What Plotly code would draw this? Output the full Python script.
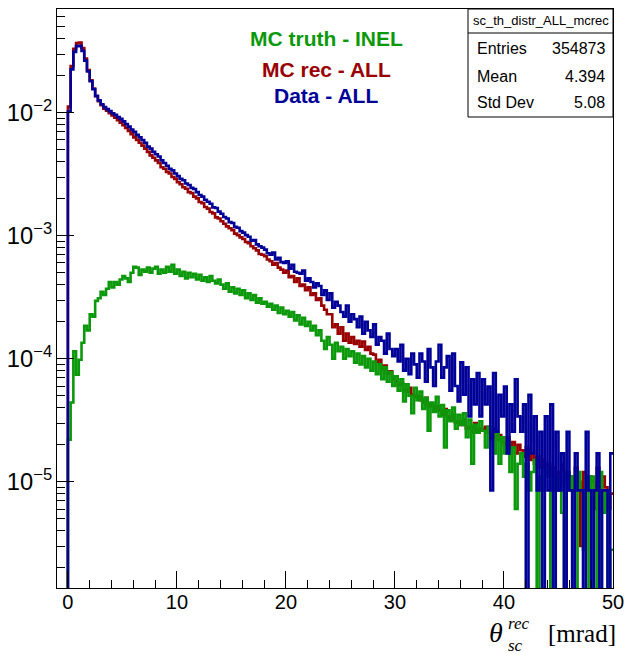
import plotly.graph_objects as go

# ---------------- data (bin contents) ----------------
BIN_WIDTH = 0.25
X_START = 0.0

mc_rec = [
    0.0112, 0.0240, 0.0330, 0.0368, 0.0372, 0.0336, 0.0276, 0.0222,
    0.0183, 0.0157, 0.0136, 0.0124, 0.0115, 0.0108, 0.0104, 0.0099,
    0.0095, 0.0091, 0.0087, 0.0083, 0.0079, 0.0075, 0.0071, 0.0067,
    0.0063, 0.0060, 0.0057, 0.0054, 0.0051, 0.0048, 0.0045, 0.0043,
    0.0041, 0.0039, 0.0036, 0.0035, 0.0033, 0.0032, 0.0030, 0.0029,
    0.00272, 0.00262, 0.00248, 0.00241, 0.00226, 0.00222, 0.00208, 0.00201,
    0.00188, 0.00184, 0.00171, 0.00166, 0.00156, 0.00152, 0.00141, 0.00138,
    0.00131, 0.00125, 0.00119, 0.00115, 0.00111, 0.00104, 0.00101, 0.00097,
    0.00094, 0.00089, 0.00087, 0.00082, 0.00079, 0.00076, 0.00071, 0.00070,
    0.00068, 0.00064, 0.00062, 0.00058, 0.00060, 0.00055, 0.00053, 0.00050,
    0.00052, 0.00046, 0.00047, 0.00042, 0.00045, 0.00039, 0.00040, 0.00036,
    0.00038, 0.00033, 0.00034, 0.00030, 0.00031, 0.00027, 0.00025, 0.00023,
    0.00023, 0.00018, 0.00019, 0.00016, 0.00018, 0.00014, 0.00016, 0.000135,
    0.00015, 0.000132, 0.00014, 0.000125, 0.000138, 0.000118, 0.000125, 0.00011,
    0.000108, 9.4e-5, 9.8e-5, 8.2e-5, 8.8e-5, 7.6e-5, 7.9e-5, 6.9e-5,
    6.6e-5, 6.1e-5, 6.3e-5, 5.6e-5, 5.4e-5, 5.8e-5, 5.1e-5, 4.9e-5,
    5.0e-5, 4.6e-5, 4.4e-5, 4.8e-5, 4.1e-5, 4.3e-5, 3.9e-5, 4.1e-5,
    3.8e-5, 3.5e-5, 3.9e-5, 3.4e-5, 3.2e-5, 3.5e-5, 3.0e-5, 3.1e-5,
    2.9e-5, 3.2e-5, 2.7e-5, 2.8e-5, 2.5e-5, 3.0e-5, 2.5e-5, 2.7e-5,
    2.6e-5, 2.8e-5, 2.5e-5, 2.3e-5, 2.7e-5, 2.2e-5, 2.4e-5, 2.1e-5,
    2.0e-5, 2.3e-5, 1.9e-5, 2.1e-5, 1.7e-5, 2.0e-5, 1.8e-5, 1.6e-5,
    1.9e-5, 1.5e-5, 1.7e-5, 1.4e-5, 1.6e-5, 1.3e-5, 1.5e-5, 1.2e-5,
    1.4e-5, 1.1e-5, 1.3e-5, 8.5e-6, 1.2e-5, 1.4e-5, 1.0e-5, 1.2e-5,
    1.1e-5, 8.5e-6, 1.3e-5, 1.0e-5, 3.0e-6, 1.2e-5, 8.5e-6, 1.1e-5,
    1.0e-5, 6.0e-6, 1.3e-5, 8.5e-6, 1.1e-5, 9.0e-6, 6.0e-6, 8.0e-6,
]

data_all = [
    0.0102, 0.0225, 0.0312, 0.0348, 0.0350, 0.0318, 0.0265, 0.0216,
    0.0180, 0.0155, 0.0137, 0.0126, 0.0117, 0.0111, 0.0107, 0.0103,
    0.0099, 0.0096, 0.0092, 0.0089, 0.0085, 0.0081, 0.0077, 0.0073,
    0.0070, 0.0066, 0.0063, 0.0060, 0.0057, 0.0053, 0.0051, 0.0048,
    0.0046, 0.0044, 0.0041, 0.0039, 0.0037, 0.0035, 0.0034, 0.0032,
    0.00305, 0.00290, 0.00282, 0.00266, 0.00258, 0.00245, 0.00240, 0.00226,
    0.00214, 0.00208, 0.00196, 0.00189, 0.00182, 0.00170, 0.00168, 0.00157,
    0.00151, 0.00142, 0.00138, 0.00129, 0.00127, 0.00118, 0.00116, 0.00109,
    0.00106, 0.00101, 0.00098, 0.00091, 0.00092, 0.00085, 0.00082, 0.00080,
    0.00077, 0.00072, 0.00070, 0.00073, 0.00064, 0.00066, 0.00061, 0.00060,
    0.00062, 0.00054, 0.00058, 0.00051, 0.00050, 0.00049, 0.00052, 0.00043,
    0.00045, 0.00042, 0.00038, 0.00041, 0.00039, 0.00033, 0.00036, 0.00030,
    0.00034, 0.00026, 0.00029, 0.00027, 0.00024, 0.00022, 0.00027, 0.00020,
    0.00023, 0.00021, 0.00018, 0.00022, 0.00016, 0.00020, 0.00017, 0.00015,
    0.00019, 0.00013, 0.00015, 0.00014, 0.00011, 0.00016, 0.00012, 0.000105,
    0.00012, 9.5e-5, 0.00013, 8.0e-5, 0.00010, 7.5e-5, 0.00011, 9.0e-5,
    7.0e-5, 0.00011, 9.5e-5, 6.5e-5, 0.00012, 8.5e-5, 6.0e-5, 9.5e-5,
    0.00013, 7.0e-5, 8.5e-5, 0.000105, 5.5e-5, 0.00011, 6.0e-5, 4.5e-5,
    9.35e-5, 5.1e-5, 8.5e-5, 3.4e-5, 6.8e-5, 4.25e-5, 7.65e-5, 3.4e-5,
    6.8e-5, 4.25e-5, 5.95e-5, 8.5e-6, 7.65e-5, 2.55e-5, 5.1e-5, 3.4e-5,
    5.95e-5, 1.7e-5, 4.25e-5, 2.55e-5, 6.8e-5, 3.4e-5, 2.55e-5, 4.25e-5,
    0.0, 5.1e-5, 1.7e-5, 3.4e-5, 8.5e-6, 2.55e-5, 0.0, 3.4e-5,
    8.5e-6, 4.25e-5, 0.0, 2.55e-5, 8.5e-6, 1.7e-5, 0.0, 2.55e-5,
    8.5e-6, 0.0, 1.7e-5, 8.5e-6, 8.5e-6, 0.0, 2.55e-5, 8.5e-6,
    0.0, 8.5e-6, 1.7e-5, 0.0, 8.5e-6, 8.5e-6, 0.0, 1.7e-5,
]

mc_truth_inel = [
    2.2e-5, 4.4e-5, 1.15e-4, 7.4e-5, 9.8e-5, 1.35e-4, 1.85e-4, 1.7e-4,
    2.3e-4, 2.2e-4, 2.95e-4, 3.1e-4, 3.5e-4, 3.3e-4, 3.7e-4, 4.2e-4,
    3.8e-4, 4.2e-4, 4.0e-4, 4.4e-4, 4.7e-4, 4.5e-4, 4.2e-4, 5.0e-4,
    5.6e-4, 5.5e-4, 4.8e-4, 5.3e-4, 5.1e-4, 5.5e-4, 5.0e-4, 5.4e-4,
    5.6e-4, 4.9e-4, 5.3e-4, 5.0e-4, 5.6e-4, 5.1e-4, 5.8e-4, 4.9e-4,
    5.3e-4, 4.7e-4, 5.1e-4, 4.5e-4, 5.0e-4, 4.6e-4, 4.9e-4, 4.4e-4,
    4.8e-4, 4.3e-4, 4.6e-4, 4.2e-4, 4.7e-4, 4.3e-4, 4.1e-4, 4.4e-4,
    4.0e-4, 3.7e-4, 4.1e-4, 3.5e-4, 3.8e-4, 3.4e-4, 3.7e-4, 3.3e-4,
    3.6e-4, 3.1e-4, 3.4e-4, 3.0e-4, 3.3e-4, 2.85e-4, 3.1e-4, 2.8e-4,
    2.9e-4, 2.65e-4, 2.8e-4, 2.5e-4, 2.7e-4, 2.35e-4, 2.6e-4, 2.3e-4,
    2.45e-4, 2.2e-4, 2.4e-4, 2.05e-4, 2.25e-4, 1.9e-4, 2.15e-4, 1.85e-4,
    2.0e-4, 1.7e-4, 1.85e-4, 1.55e-4, 1.7e-4, 1.4e-4, 1.2e-4, 1.5e-4,
    1.3e-4, 1.0e-4, 1.35e-4, 1.15e-4, 1.25e-4, 1.0e-4, 1.2e-4, 1.05e-4,
    1.15e-4, 9.3e-5, 1.1e-4, 9.0e-5, 1.05e-4, 8.5e-5, 1.0e-4, 8.0e-5,
    9.5e-5, 7.5e-5, 9.0e-5, 6.8e-5, 8.5e-5, 6.5e-5, 7.8e-5, 6.0e-5,
    7.2e-5, 5.5e-5, 6.8e-5, 4.5e-5, 6.2e-5, 5.0e-5, 3.6e-5, 5.8e-5,
    4.6e-5, 5.4e-5, 3.9e-5, 4.8e-5, 2.6e-5, 4.4e-5, 3.7e-5, 4.9e-5,
    3.4e-5, 4.2e-5, 1.9e-5, 3.8e-5, 3.1e-5, 4.0e-5, 2.7e-5, 3.5e-5,
    2.9e-5, 3.6e-5, 2.3e-5, 3.2e-5, 1.4e-5, 2.9e-5, 2.5e-5, 3.1e-5,
    2.6e-5, 1.9e-5, 2.8e-5, 2.2e-5, 1.7e-5, 2.5e-5, 1.4e-5, 2.3e-5,
    1.7e-5, 2.1e-5, 1.2e-5, 1.9e-5, 6.0e-6, 1.4e-5, 1.7e-5, 1.1e-5,
    1.4e-5, 8.5e-6, 1.2e-5, 1.5e-5, 0.0, 1.1e-5, 8.5e-6, 1.3e-5,
    1.1e-5, 0.0, 1.2e-5, 8.5e-6, 1.1e-5, 5.6e-6, 0.0, 1.2e-5,
    8.5e-6, 1.1e-5, 0.0, 1.2e-5, 8.5e-6, 2.8e-6, 1.1e-5, 0.0,
    1.1e-5, 8.5e-6, 0.0, 1.2e-5, 5.6e-6, 8.5e-6, 0.0, 2.8e-6,
]

legend_labels = ["MC truth - INEL", "MC rec - ALL", "Data - ALL"]
stats_title = "sc_th_distr_ALL_mcrec"
stats_names = ["Entries", "Mean", "Std Dev"]
stats_values = ["354873", "4.394", "5.08"]

X_RANGE = [-1.0, 50.0]
Y_RANGE_LOG = [-5.864, -1.157]

GREEN = "#0b990b"
RED = "#990000"
BLUE = "#000099"

FLOOR = 1e-9  # empty bins are drawn down to (below) the frame bottom


def step_xy(vals):
    xs = [X_START]
    ys = [FLOOR]
    for i, v in enumerate(vals):
        xs.append(X_START + i * BIN_WIDTH)
        ys.append(v if v > 0 else FLOOR)
    xs.append(X_START + len(vals) * BIN_WIDTH)
    ys.append(ys[-1])
    return xs, ys


fig = go.Figure()
for vals, col, name in [(mc_rec, RED, legend_labels[1]),
                        (mc_truth_inel, GREEN, legend_labels[0]),
                        (data_all, BLUE, legend_labels[2])]:
    xs, ys = step_xy(vals)
    fig.add_trace(go.Scatter(x=xs, y=ys, mode="lines", name=name,
                             line=dict(color=col, width=2.6, shape="hv"),
                             showlegend=False, hoverinfo="skip"))

# ---------------- layout ----------------
# page body margin is removed (see write_html below), so the figure's
# pixels coincide with the window's pixels.
W, H = 625, 654
FL, FR, FT, FB = 57, 613, 9, 588          # frame edges in window pixels
ML, MT = FL, FT
MR, MB = W - FR, H - FB
PW, PH = FR - FL, FB - FT


def px(xwin):
    return (xwin - FL) / PW


def py(ywin):
    return 1 - (ywin - FT) / PH


fig.update_layout(
    width=W, height=H,
    margin=dict(l=ML, r=MR, t=MT, b=MB, pad=0),
    paper_bgcolor="white", plot_bgcolor="white",
    font=dict(family="Liberation Sans, Arial, sans-serif", color="black"),
    xaxis=dict(range=X_RANGE, showgrid=False, zeroline=False, automargin=False,
               showline=True, mirror=True, linecolor="black", linewidth=1,
               ticks="inside", ticklen=17, tickwidth=1, tickcolor="black",
               tick0=0, dtick=10, tickfont=dict(size=20),
               ticklabelstandoff=-4,
               minor=dict(ticks="inside", ticklen=8, tickwidth=1,
                          tickcolor="black", dtick=2, showgrid=False)),
    yaxis=dict(type="log", range=Y_RANGE_LOG, showgrid=False, zeroline=False,
               automargin=False,
               showline=True, mirror=True, linecolor="black", linewidth=1,
               ticks="inside", ticklen=17, tickwidth=1, tickcolor="black",
               dtick=1, exponentformat="power", tickfont=dict(size=19),
               minor=dict(ticks="inside", ticklen=8, tickwidth=1,
                          tickcolor="black", dtick="D1", showgrid=False)),
)

# stats box
fig.add_shape(type="rect", xref="paper", yref="paper",
              x0=px(468), x1=px(613), y0=py(117), y1=py(9),
              line=dict(color="black", width=1), fillcolor="white", layer="above")
fig.add_shape(type="line", xref="paper", yref="paper",
              x0=px(468), x1=px(613), y0=py(33), y1=py(33),
              line=dict(color="black", width=1), layer="above")
fig.add_annotation(xref="paper", yref="paper", x=px(540.5), y=py(21),
                   text=stats_title, showarrow=False, xanchor="center",
                   yanchor="middle", font=dict(size=13, color="black"))
for name, val, ypix in zip(stats_names, stats_values, [49, 76, 102]):
    fig.add_annotation(xref="paper", yref="paper", x=px(475), y=py(ypix),
                       text=name, showarrow=False, xanchor="left",
                       yanchor="middle", font=dict(size=16, color="black"))
    fig.add_annotation(xref="paper", yref="paper", x=px(607), y=py(ypix),
                       text=val, showarrow=False, xanchor="right",
                       yanchor="middle", font=dict(size=16, color="black"))

# legend texts
for lab, col, ypix in zip(legend_labels, [GREEN, RED, BLUE], [39, 69, 96]):
    fig.add_annotation(xref="paper", yref="paper", x=px(326), y=py(ypix),
                       text="<b>" + lab + "</b>", showarrow=False,
                       xanchor="center", yanchor="middle",
                       font=dict(size=21, color=col,
                                 family="Liberation Sans, Arial, sans-serif"))

# x axis title: theta_sc^rec [mrad]
SERIF = "Liberation Serif, Times New Roman, serif"
fig.add_annotation(xref="paper", yref="paper", x=px(496), y=py(632),
                   text="<i>θ</i>", showarrow=False, xanchor="center",
                   yanchor="middle", font=dict(size=28, family=SERIF))
fig.add_annotation(xref="paper", yref="paper", x=px(507), y=py(623.5),
                   text="<i>rec</i>", showarrow=False, xanchor="left",
                   yanchor="middle", borderpad=0,
                   font=dict(size=17, family=SERIF))
fig.add_annotation(xref="paper", yref="paper", x=px(507), y=py(645),
                   text="<i>sc</i>", showarrow=False, xanchor="left",
                   yanchor="middle", borderpad=0,
                   font=dict(size=17, family=SERIF))
fig.add_annotation(xref="paper", yref="paper", x=px(618), y=py(633),
                   text="[mrad]", showarrow=False, xanchor="right",
                   yanchor="middle", font=dict(size=25, family=SERIF))

fig.write_html("out.html",
               config={"displayModeBar": False},
               post_script="document.body.style.margin='0px';")
